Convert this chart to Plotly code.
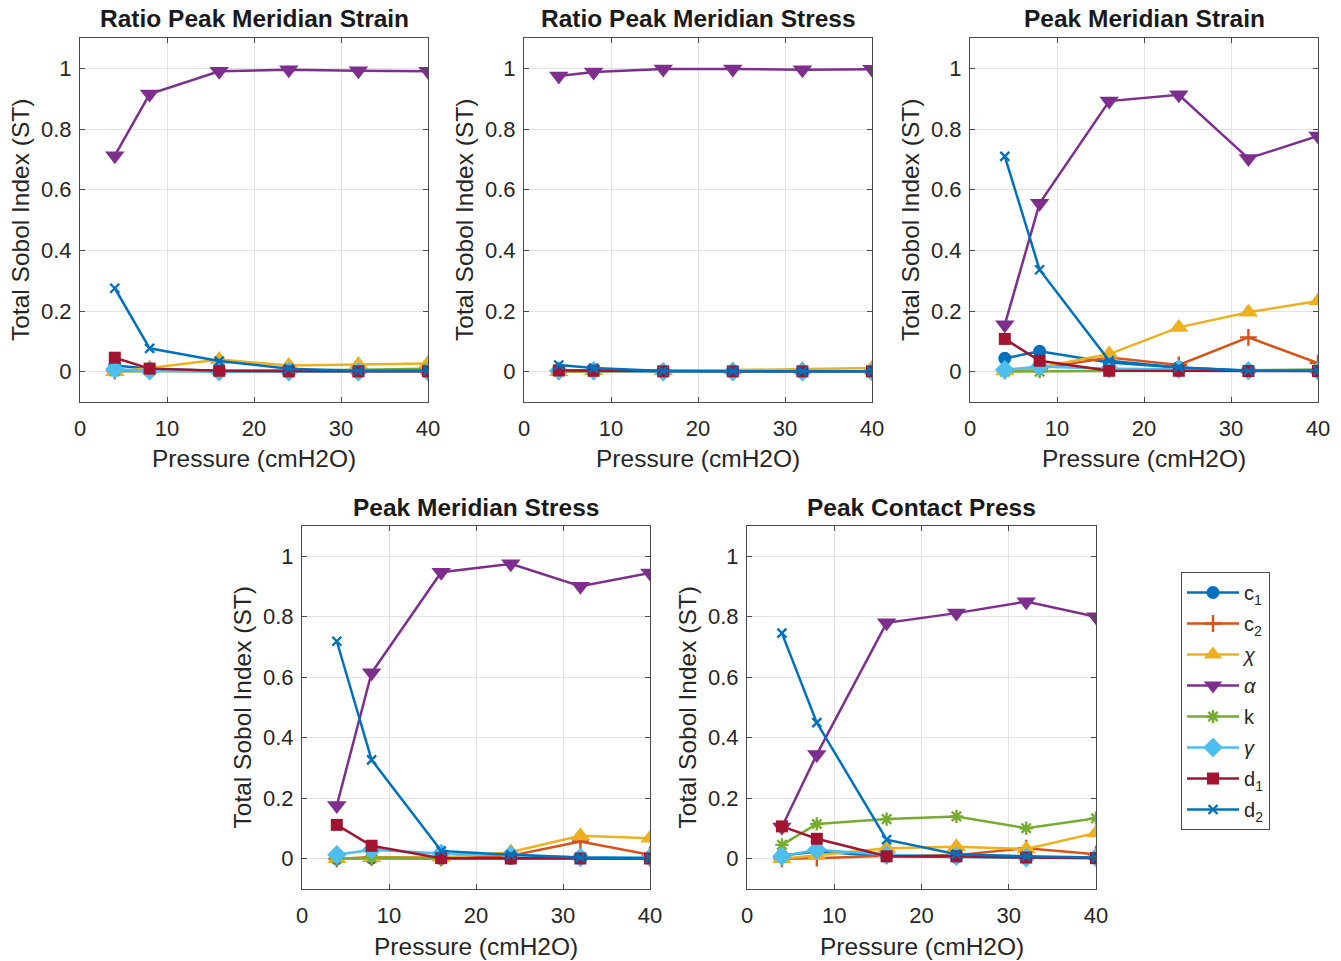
import plotly.graph_objects as go

pressure = [4, 8, 16, 24, 32, 40]

param_names = ["c<sub>1</sub>", "c<sub>2</sub>", "<i>χ</i>", "<i>α</i>", "k", "<i>γ</i>",
               "d<sub>1</sub>", "d<sub>2</sub>"]
param_colors = ["#0072BD", "#D95319", "#EDB120", "#7E2F8E", "#77AC30", "#4DBEEE",
                "#A2142F", "#0072BD"]
param_symbols = ["circle", "cross-thin-open", "triangle-up", "triangle-down",
                 "asterisk-open", "diamond", "square", "x-thin-open"]
param_sizes = [13, 12, 17, 17, 11, 15, 12, 9]

panel_titles = ["Ratio Peak Meridian Strain", "Ratio Peak Meridian Stress",
                "Peak Meridian Strain", "Peak Meridian Stress", "Peak Contact Press"]

# Values per panel, order: c1, c2, chi, alpha, k, gamma, d1, d2
ratio_strain_c1 = [0.02, 0.01, 0.003, 0.002, 0.001, 0.002]
ratio_strain_c2 = [0.002, 0.003, 0.002, 0.001, 0.001, 0.001]
ratio_strain_chi = [0.0, 0.012, 0.04, 0.02, 0.024, 0.027]
ratio_strain_alpha = [0.712, 0.915, 0.99, 0.995, 0.992, 0.99]
ratio_strain_k = [0.001, 0.002, 0.002, 0.003, 0.006, 0.01]
ratio_strain_gamma = [0.008, 0.003, 0.0, 0.0, 0.0, 0.0]
ratio_strain_d1 = [0.046, 0.01, 0.003, 0.001, 0.001, 0.001]
ratio_strain_d2 = [0.275, 0.077, 0.035, 0.01, 0.003, 0.003]

ratio_stress_c1 = [0.005, 0.004, 0.001, 0.001, 0.001, 0.001]
ratio_stress_c2 = [0.001, 0.001, 0.001, 0.001, 0.001, 0.001]
ratio_stress_chi = [0.0, 0.003, 0.002, 0.006, 0.008, 0.012]
ratio_stress_alpha = [0.975, 0.988, 0.998, 0.998, 0.995, 0.997]
ratio_stress_k = [0.001, 0.001, 0.001, 0.001, 0.001, 0.001]
ratio_stress_gamma = [0.003, 0.003, 0.0, 0.0, 0.0, 0.0]
ratio_stress_d1 = [0.004, 0.003, 0.001, 0.001, 0.001, 0.001]
ratio_stress_d2 = [0.022, 0.012, 0.002, 0.002, 0.001, 0.001]

peak_strain_c1 = [0.044, 0.067, 0.03, 0.014, 0.004, 0.003]
peak_strain_c2 = [0.003, 0.01, 0.047, 0.022, 0.113, 0.028]
peak_strain_chi = [0.003, 0.014, 0.058, 0.146, 0.196, 0.233]
peak_strain_alpha = [0.155, 0.555, 0.892, 0.913, 0.703, 0.777]
peak_strain_k = [0.0, 0.0, 0.002, 0.003, 0.005, 0.007]
peak_strain_gamma = [0.006, 0.017, 0.01, 0.008, 0.003, 0.002]
peak_strain_d1 = [0.108, 0.036, 0.003, 0.003, 0.002, 0.002]
peak_strain_d2 = [0.71, 0.336, 0.036, 0.014, 0.003, 0.003]

peak_stress_c1 = [0.0, 0.002, 0.001, 0.001, 0.001, 0.001]
peak_stress_c2 = [0.0, 0.005, 0.003, 0.01, 0.057, 0.013]
peak_stress_chi = [0.0, 0.003, 0.004, 0.022, 0.076, 0.068]
peak_stress_alpha = [0.176, 0.615, 0.947, 0.975, 0.901, 0.945]
peak_stress_k = [0.0, 0.003, 0.002, 0.002, 0.002, 0.002]
peak_stress_gamma = [0.013, 0.03, 0.017, 0.013, 0.004, 0.004]
peak_stress_d1 = [0.112, 0.043, 0.002, 0.001, 0.001, 0.001]
peak_stress_d2 = [0.719, 0.327, 0.026, 0.013, 0.004, 0.002]

contact_c1 = [0.011, 0.024, 0.008, 0.005, 0.004, 0.005]
contact_c2 = [0.0, 0.002, 0.01, 0.012, 0.035, 0.015]
contact_chi = [0.0, 0.011, 0.035, 0.04, 0.032, 0.085]
contact_alpha = [0.105, 0.345, 0.78, 0.812, 0.85, 0.8]
contact_k = [0.046, 0.115, 0.131, 0.14, 0.101, 0.134]
contact_gamma = [0.008, 0.03, 0.013, 0.008, 0.003, 0.004]
contact_d1 = [0.107, 0.066, 0.008, 0.008, 0.004, 0.002]
contact_d2 = [0.746, 0.45, 0.063, 0.015, 0.008, 0.004]

panels = [
    [ratio_strain_c1, ratio_strain_c2, ratio_strain_chi, ratio_strain_alpha,
     ratio_strain_k, ratio_strain_gamma, ratio_strain_d1, ratio_strain_d2],
    [ratio_stress_c1, ratio_stress_c2, ratio_stress_chi, ratio_stress_alpha,
     ratio_stress_k, ratio_stress_gamma, ratio_stress_d1, ratio_stress_d2],
    [peak_strain_c1, peak_strain_c2, peak_strain_chi, peak_strain_alpha,
     peak_strain_k, peak_strain_gamma, peak_strain_d1, peak_strain_d2],
    [peak_stress_c1, peak_stress_c2, peak_stress_chi, peak_stress_alpha,
     peak_stress_k, peak_stress_gamma, peak_stress_d1, peak_stress_d2],
    [contact_c1, contact_c2, contact_chi, contact_alpha,
     contact_k, contact_gamma, contact_d1, contact_d2],
]

W, H = 1341, 961
# pixel boxes (left, right, top, bottom)
boxes = [(80, 428, 38, 402), (524, 872, 38, 402), (970, 1318, 38, 402),
         (302, 650, 526, 889), (747, 1096, 526, 889)]

FONT = "Liberation Sans, Arial, Helvetica, sans-serif"
TXT = "#262626"
AX = "#4a4a4a"

fig = go.Figure()
layout = dict(
    width=W, height=H, margin=dict(l=0, r=0, t=0, b=0, autoexpand=False),
    paper_bgcolor="white", plot_bgcolor="white",
    font=dict(family=FONT, color=TXT),
    showlegend=True,
)
annotations = []

for p, (vals, (l, r, t, b)) in enumerate(zip(panels, boxes)):
    idx = "" if p == 0 else str(p + 1)
    xa, ya = "x" + idx, "y" + idx
    xdom = [l / W, r / W]
    ydom = [1 - b / H, 1 - t / H]
    layout["xaxis" + idx] = dict(
        domain=xdom, anchor=ya, range=[0, 40], tickvals=[0, 10, 20, 30, 40],
        showgrid=True, gridcolor="#E3E3E3", gridwidth=1, zeroline=False,
        showline=True, linecolor=AX, linewidth=1, mirror="ticks",
        ticks="inside", ticklen=5, tickcolor=AX, automargin=False,
        tickfont=dict(size=22, color=TXT, family=FONT), ticklabelstandoff=7,
    )
    layout["yaxis" + idx] = dict(
        domain=ydom, anchor=xa, range=[-0.1, 1.1],
        tickvals=[0, 0.2, 0.4, 0.6, 0.8, 1.0],
        ticktext=["0", "0.2", "0.4", "0.6", "0.8", "1"],
        showgrid=True, gridcolor="#E3E3E3", gridwidth=1, zeroline=False,
        showline=True, linecolor=AX, linewidth=1, mirror="ticks",
        ticks="inside", ticklen=5, tickcolor=AX, automargin=False,
        tickfont=dict(size=22, color=TXT, family=FONT), ticklabelstandoff=3,
    )
    for i, yv in enumerate(vals):
        sym = param_symbols[i]
        is_open = sym.endswith("-open")
        marker = dict(symbol=sym, size=param_sizes[i], color=param_colors[i],
                      line=dict(color=param_colors[i], width=2.4 if is_open else 0))
        fig.add_trace(go.Scatter(
            x=pressure, y=yv, mode="lines+markers", name=param_names[i],
            line=dict(color=param_colors[i], width=2.5), marker=marker,
            xaxis=xa, yaxis=ya, showlegend=(p == 0), legendgroup=str(i),
        ))
    cx = (l + r) / 2 / W
    annotations.append(dict(text="<b>" + panel_titles[p] + "</b>", x=cx, y=1 - (t - 19) / H,
                            xref="paper", yref="paper", xanchor="center", yanchor="middle",
                            showarrow=False, font=dict(size=24.5, color="#1a1a1a", family=FONT)))
    annotations.append(dict(text="Pressure (cmH2O)", x=cx, y=1 - (b + 57) / H,
                            xref="paper", yref="paper", xanchor="center", yanchor="middle",
                            showarrow=False, font=dict(size=24.5, color=TXT, family=FONT)))
    annotations.append(dict(text="Total Sobol Index (ST)", x=l / W, xshift=-60,
                            y=1 - (t + b) / 2 / H, xref="paper", yref="paper",
                            xanchor="center", yanchor="middle", textangle=-90,
                            showarrow=False, font=dict(size=24.5, color=TXT, family=FONT)))

layout["annotations"] = annotations
layout["legend"] = dict(
    x=1181 / W, y=1 - 572 / H, xanchor="left", yanchor="top",
    bordercolor=AX, borderwidth=1, bgcolor="white",
    font=dict(size=20, color=TXT, family=FONT), tracegroupgap=2,
    itemwidth=52,
)
fig.update_layout(**layout)
fig.write_html("out.html")
